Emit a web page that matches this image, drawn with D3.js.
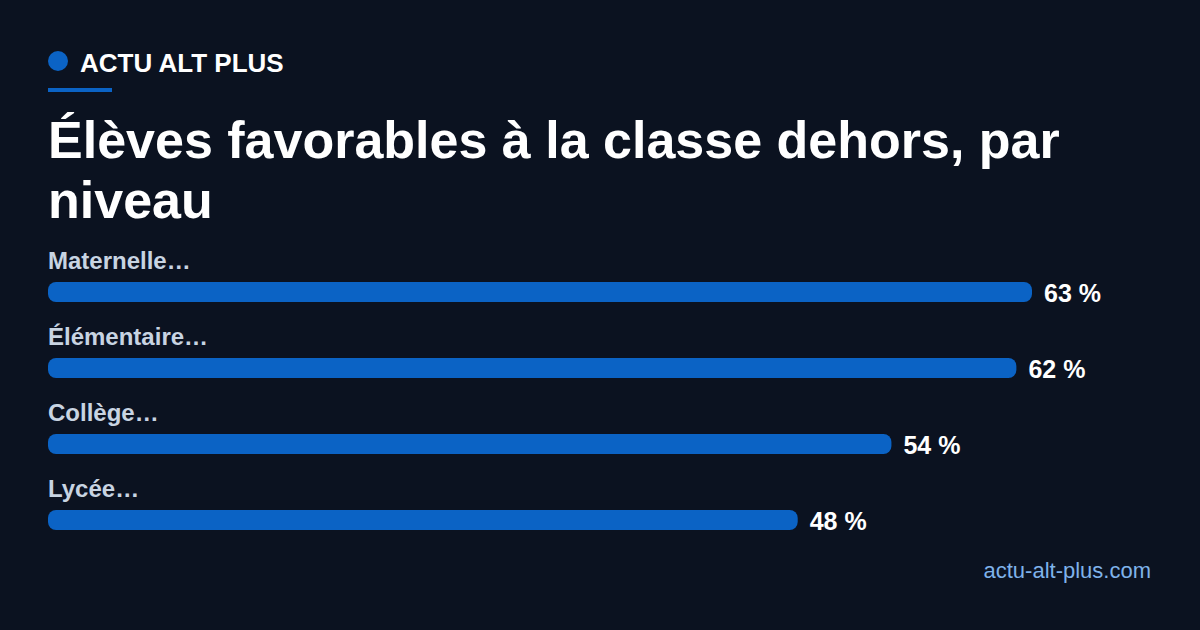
<!DOCTYPE html>
<html><head><meta charset="utf-8">
<script src="https://cdn.jsdelivr.net/npm/d3@7"></script>
<style>html,body{margin:0;padding:0;background:#0b1220;}svg{display:block;}</style>
</head><body>
<script>
const categories = ["Maternelle…", "Élémentaire…", "Collège…", "Lycée…"];
const values = [63, 62, 54, 48];
const valueLabels = ["63 %", "62 %", "54 %", "48 %"];
const brand = "ACTU ALT PLUS";
const titleLines = ["Élèves favorables à la classe dehors, par", "niveau"];
const source = "actu-alt-plus.com";

const W = 1200, H = 630;
const font = "'Liberation Sans', Arial, Helvetica, sans-serif";
const svg = d3.select("body").append("svg").attr("width", W).attr("height", H);
svg.append("rect").attr("width", W).attr("height", H).attr("fill", "#0b1220");

svg.append("circle").attr("cx", 58).attr("cy", 61).attr("r", 10).attr("fill", "#0b63c5");
svg.append("text").attr("x", 80).attr("y", 72).text(brand)
  .attr("font-family", font).attr("font-weight", 700).attr("font-size", 26).attr("fill", "#ffffff");
svg.append("rect").attr("x", 48).attr("y", 88).attr("width", 64).attr("height", 4).attr("fill", "#0b63c5");

svg.selectAll("text.title").data(titleLines).enter().append("text")
  .attr("class", "title").attr("x", 48).attr("y", (d, i) => 158 + i * 60).text(d => d)
  .attr("font-family", font).attr("font-weight", 700).attr("font-size", 52).attr("fill", "#ffffff");

const x = d3.scaleLinear().domain([0, d3.max(values)]).range([48, 1032]);
const y = d3.scaleBand().domain(categories).range([244, 548]).paddingInner(0).paddingOuter(0);
const barH = 20;

const g = svg.selectAll("g.row").data(categories).enter().append("g").attr("class", "row")
  .attr("transform", d => `translate(0,${y(d)})`);
g.append("text").attr("x", 48).attr("y", 25).text(d => d)
  .attr("font-family", font).attr("font-weight", 700).attr("font-size", 24).attr("fill", "#c8d4e2");
g.append("rect").attr("x", x(0)).attr("y", 38).attr("height", barH)
  .attr("width", (d, i) => x(values[i]) - x(0)).attr("rx", 8).attr("fill", "#0b63c5");
g.append("text").attr("x", (d, i) => x(values[i]) + 12).attr("y", 58).text((d, i) => valueLabels[i])
  .attr("font-family", font).attr("font-weight", 700).attr("font-size", 25).attr("fill", "#ffffff");

svg.append("text").attr("x", 1151).attr("y", 578).attr("text-anchor", "end").text(source)
  .attr("font-family", font).attr("font-size", 22).attr("fill", "#7fb2ea");
</script>
</body></html>
